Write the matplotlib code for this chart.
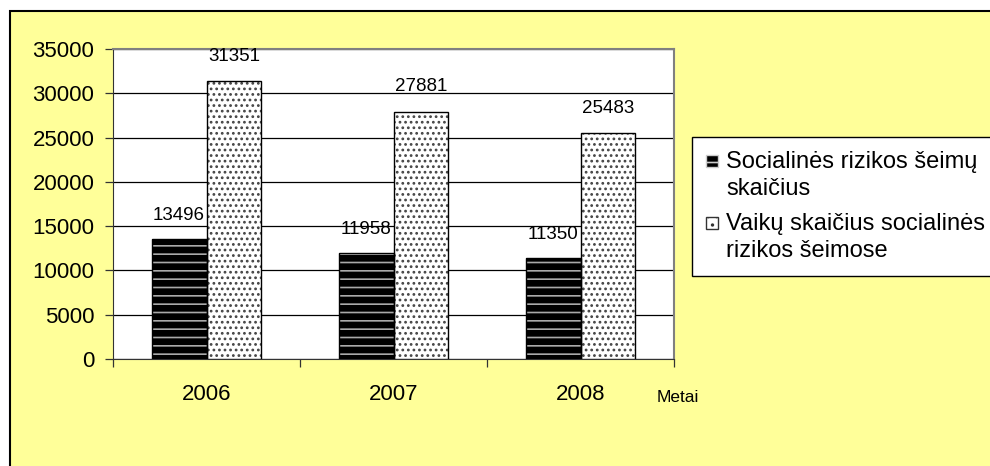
import matplotlib.pyplot as plt
import numpy as np
from matplotlib.patches import Rectangle
from matplotlib.legend_handler import HandlerPatch

plt.rcParams['font.family'] = ['Liberation Sans', 'DejaVu Sans']

years = ['2006', '2007', '2008']
seimos = [13496, 11958, 11350]
vaikai = [31351, 27881, 25483]
series_names = ['Socialinės rizikos šeimų\nskaičius',
                'Vaikų skaičius socialinės\nrizikos šeimose']

fig = plt.figure(figsize=(9.9, 4.66), dpi=100)
fig.patch.set_facecolor('white')

# geltonas fonas su juodu rėmeliu
bg = Rectangle((10 / 990, -0.1), 1.2, 1.1 - 10.5 / 466, transform=fig.transFigure,
               facecolor='#FFFF99', edgecolor='black', linewidth=1.5, zorder=-10)
fig.patches.append(bg)

ax = fig.add_axes([113 / 990, 1 - 359 / 466, (674 - 113) / 990, (359 - 49) / 466])
ax.set_facecolor('white')

x = np.arange(len(years))
w = 0.294

plt.rcParams['hatch.linewidth'] = 1.2
ax.bar(x - w / 2, seimos, w, facecolor='black', edgecolor='#aaaaaa',
       hatch='--', linewidth=0, zorder=3)
ax.bar(x - w / 2, seimos, w, facecolor='none', edgecolor='black', linewidth=1, zorder=4)
ax.bar(x + w / 2, vaikai, w, facecolor='white', edgecolor='#444444',
       hatch='...', linewidth=0, zorder=3)
ax.bar(x + w / 2, vaikai, w, facecolor='none', edgecolor='black', linewidth=1, zorder=4)

for xi, v in zip(x - w / 2, seimos):
    ax.annotate(str(v), (xi, v), xytext=(0, 11), textcoords='offset points',
                ha='center', va='bottom', fontsize=13.5, zorder=5)
for xi, v in zip(x + w / 2, vaikai):
    ax.annotate(str(v), (xi, v), xytext=(0, 12), textcoords='offset points',
                ha='center', va='bottom', fontsize=13.5, zorder=5)

ax.set_xlim(-0.5, 2.5)
ax.set_ylim(0, 35000)
ax.set_yticks(np.arange(0, 35001, 5000))
ax.yaxis.grid(True, color='black', linewidth=0.9, zorder=0)
ax.set_axisbelow(True)

ax.set_xticks(x)
ax.set_xticklabels(years)
ax.set_xticks([-0.5, 0.5, 1.5, 2.5], minor=True)
ax.tick_params(axis='x', which='major', length=0, pad=18, labelsize=16)
ax.tick_params(axis='x', which='minor', length=5.5, width=0.9, color='#333333')
ax.tick_params(axis='y', length=5.5, width=0.9, pad=8, labelsize=16, color='#333333')

for s in ['top', 'right']:
    ax.spines[s].set_color('#808080')
    ax.spines[s].set_linewidth(1.5)
ax.spines['left'].set_color('#333333')
ax.spines['bottom'].set_color('#333333')

fig.text(678 / 990, 1 - 398 / 466, 'Metai', ha='center', va='center', fontsize=12.5)


# legendos kvadratėlis prie pirmos eilutės
def top_square(legend, orig_handle, xdescent, ydescent, width, height, fontsize):
    size = 0.5 * fontsize
    return Rectangle((-xdescent, -ydescent + (height - size) / 2 + 0.62 * fontsize),
                     size, size)


h1 = Rectangle((0, 0), 1, 1, facecolor='black', edgecolor='#cccccc', hatch='--',
               linewidth=1)
h2 = Rectangle((0, 0), 1, 1, facecolor='white', edgecolor='#333333', hatch='..',
               linewidth=1)
leg = fig.legend([h1, h2], series_names, loc='upper left',
                 bbox_to_anchor=(692 / 990, 1 - 137 / 466), fontsize=17,
                 handlelength=0.5, handleheight=0.7, handletextpad=0.35,
                 borderpad=0.6, labelspacing=0.55, fancybox=False,
                 framealpha=1, edgecolor='black', borderaxespad=0,
                 handler_map={Rectangle: HandlerPatch(patch_func=top_square)})
leg.get_frame().set_linewidth(1)
for t in leg.get_texts():
    t.set_linespacing(1.28)

fig.savefig('out.png', dpi=100, facecolor=fig.get_facecolor())
